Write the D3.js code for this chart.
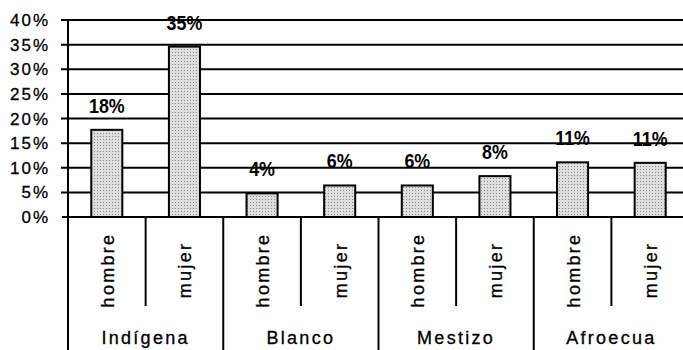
<!DOCTYPE html>
<html lang="es">
  <head>
    <meta charset="utf-8">
    <title>Porcentaje por etnia y sexo</title>
    <script src="https://cdn.jsdelivr.net/npm/d3@7"></script>
    <style>
      body { margin: 0; background: #fff; }
      text { font-family: "Liberation Sans", Arial, sans-serif; fill: #000; }
      .plain { stroke: #000; stroke-width: 0.3px; }
    </style>
  </head>
  <body>
    <script>
      // data
      var groups = ["Indígena", "Blanco", "Mestizo", "Afroecua"];
      var sexes = ["hombre", "mujer"];
      var values = [17.7, 34.6, 4.8, 6.4, 6.4, 8.3, 11.1, 11.0];
      var valueLabels = ["18%", "35%", "4%", "6%", "6%", "8%", "11%", "11%"];
      var yTicks = [0, 5, 10, 15, 20, 25, 30, 35, 40];

      var width = 683, height = 350;
      var margin = {top: 20, left: 68, bottom: 217};
      var plotRight = 689;

      var data = [];
      groups.forEach(function(g, i) {
        sexes.forEach(function(s, j) {
          var k = i * sexes.length + j;
          data.push({key: g + "|" + s, group: g, sex: s, value: values[k], label: valueLabels[k]});
        });
      });

      var svg = d3.select("body")
                  .append("svg")
                  .attr("width", width)
                  .attr("height", height);

      // dotted grey fill like the scanned bars
      var pat = svg.append("defs").append("pattern")
                   .attr("id", "dots")
                   .attr("width", 3).attr("height", 3)
                   .attr("patternUnits", "userSpaceOnUse");
      pat.append("rect").attr("width", 3).attr("height", 3).attr("fill", "#dedede");
      pat.append("rect").attr("x", 1).attr("y", 1).attr("width", 1).attr("height", 1).attr("fill", "#8a8a8a");

      var slot = d3.scaleBand()
                   .domain(data.map(d => d.key))
                   .range([margin.left, plotRight])
                   .padding(0);

      var x = d3.scaleBand()
                .domain(data.map(d => d.key))
                .range([margin.left, plotRight])
                .paddingInner(0.6)
                .paddingOuter(0.3);

      var groupScale = d3.scaleBand()
                         .domain(groups)
                         .range([margin.left, plotRight]);

      var y = d3.scaleLinear()
                .domain([0, 40])
                .range([margin.bottom, margin.top]);

      // gridlines
      svg.append("g")
         .selectAll("line")
         .data(yTicks.filter(t => t > 0))
         .enter()
         .append("line")
           .attr("x1", 61)
           .attr("x2", width)
           .attr("y1", d => y(d))
           .attr("y2", d => y(d))
           .attr("stroke", "#000")
           .attr("stroke-width", 2);

      // y tick labels
      svg.append("g")
         .selectAll("text")
         .data(yTicks)
         .enter()
         .append("text")
           .attr("class", "plain")
           .attr("x", 50)
           .attr("y", d => y(d))
           .attr("dy", "0.36em")
           .attr("text-anchor", "end")
           .style("font-size", "17px")
           .style("letter-spacing", "2px")
           .text(d => d + "%");

      // bars
      svg.append("g")
         .selectAll("rect")
         .data(data)
         .enter()
         .append("rect")
           .attr("x", d => x(d.key))
           .attr("y", d => y(d.value))
           .attr("width", x.bandwidth())
           .attr("height", d => y(0) - y(d.value))
           .attr("fill", "url(#dots)")
           .attr("stroke", "#000")
           .attr("stroke-width", 2);

      // value labels
      svg.append("g")
         .selectAll("text")
         .data(data)
         .enter()
         .append("text")
           .attr("transform", d => "translate(" + (x(d.key) + x.bandwidth() / 2) + "," + (y(d.value) - 17) + ") scale(0.85,1)")
           .attr("text-anchor", "middle")
           .style("font-size", "21px")
           .style("font-weight", "bold")
           .text(d => d.label);

      // axes
      svg.append("line")
         .attr("x1", 62).attr("x2", width)
         .attr("y1", y(0)).attr("y2", y(0))
         .attr("stroke", "#000").attr("stroke-width", 2);

      svg.append("line")
         .attr("x1", margin.left).attr("x2", margin.left)
         .attr("y1", margin.top).attr("y2", height)
         .attr("stroke", "#000").attr("stroke-width", 2);

      // separators under the axis: short between sexes, long between groups
      var seps = data.map((d, i) => ({x: slot(d.key) + slot.bandwidth(), long: i % 2 === 1}));
      svg.append("g")
         .selectAll("line")
         .data(seps)
         .enter()
         .append("line")
           .attr("x1", d => d.x)
           .attr("x2", d => d.x)
           .attr("y1", y(0))
           .attr("y2", d => d.long ? height : 306)
           .attr("stroke", "#000")
           .attr("stroke-width", 2);

      // sex labels, rotated
      svg.append("g")
         .selectAll("text")
         .data(data)
         .enter()
         .append("text")
           .attr("class", "plain")
           .attr("transform", d => "translate(" + (slot(d.key) + slot.bandwidth() / 2 + 7) + ",270) rotate(-90)")
           .attr("text-anchor", "middle")
           .style("font-size", "18px")
           .style("letter-spacing", "2.3px")
           .text(d => d.sex);

      // group labels
      svg.append("g")
         .selectAll("text")
         .data(groups)
         .enter()
         .append("text")
           .attr("class", "plain")
           .attr("x", d => groupScale(d) + groupScale.bandwidth() / 2)
           .attr("y", 344)
           .attr("text-anchor", "middle")
           .style("font-size", "18px")
           .style("letter-spacing", "2.3px")
           .text(d => d);
    </script>
  </body>
</html>
